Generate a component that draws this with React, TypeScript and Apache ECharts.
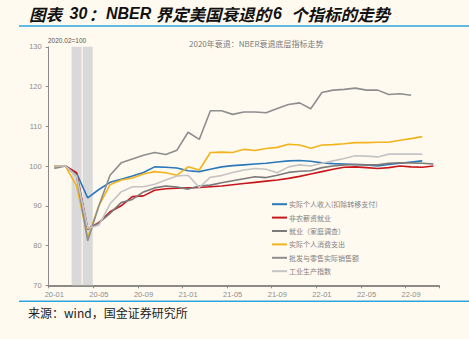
import React, { useEffect, useRef } from 'react';
import * as echarts from 'echarts';

const months = [
  '2020-01', '2020-02', '2020-03', '2020-04', '2020-05', '2020-06', '2020-07', '2020-08', '2020-09', '2020-10', '2020-11', '2020-12',
  '2021-01', '2021-02', '2021-03', '2021-04', '2021-05', '2021-06', '2021-07', '2021-08', '2021-09', '2021-10', '2021-11', '2021-12',
  '2022-01', '2022-02', '2022-03', '2022-04', '2022-05', '2022-06', '2022-07', '2022-08', '2022-09', '2022-10', '2022-11',
];

const recessionShade = [null, null, 130, 130, null, null, null, null, null, null, null, null, null, null, null, null, null, null, null, null, null, null, null, null, null, null, null, null, null, null, null, null, null, null, null];

const realIncome = [100, 100, 98.2, 92.0, 94.1, 95.9, 96.7, 97.5, 98.4, 99.8, 99.7, 99.5, 98.8, 98.6, 99.2, 99.8, 100.1, 100.3, 100.5, 100.7, 101.0, 101.3, 101.4, 101.2, 100.8, 100.6, 100.5, 100.4, 100.3, 100.0, 100.4, 100.7, 101.0, 101.3, null];
const payrolls = [100, 100, 98.3, 84.1, 85.8, 88.5, 90.0, 92.3, 92.5, 93.9, 94.3, 94.4, 94.5, 94.6, 94.8, 95.0, 95.3, 95.6, 95.9, 96.2, 96.5, 96.9, 97.4, 98.0, 98.6, 99.2, 99.7, 99.8, 99.6, 99.4, 99.6, 100.0, 99.8, 99.7, 100.0];
const householdEmp = [99.8, 100, 97.7, 84.1, 85.7, 88.1, 90.8, 91.6, 93.5, 94.5, 95.0, 94.7, 94.2, 95.0, 95.2, 95.8, 96.3, 96.8, 97.3, 97.1, 97.7, 98.4, 98.7, 98.8, 99.6, 100.0, 100.3, 100.4, 100.3, 100.3, 100.7, 100.8, 100.8, 100.7, 100.5];
const realPCE = [100, 100, 95.0, 82.0, 90.0, 95.3, 96.5, 97.0, 98.0, 98.6, 98.3, 97.7, 99.8, 99.0, 103.4, 103.5, 103.4, 104.2, 103.9, 104.4, 104.7, 105.5, 105.3, 104.5, 105.3, 105.4, 105.6, 105.9, 105.9, 106.0, 106.0, 106.5, 106.9, 107.4, null];
const tradeSales = [99.4, 100, 97.5, 81.2, 90.0, 97.7, 100.8, 101.8, 102.7, 103.4, 102.9, 104.0, 108.5, 106.7, 113.9, 113.9, 113.0, 113.6, 113.6, 113.4, 114.5, 115.5, 115.9, 114.4, 118.5, 119.1, 119.3, 119.6, 119.1, 119.1, 118.0, 118.2, 117.8, null, null];
const industrialProd = [100, 100, 97.5, 84.3, 85.1, 90.5, 93.5, 94.8, 94.8, 95.4, 96.5, 97.5, 97.7, 94.6, 97.2, 97.6, 98.4, 99.0, 99.4, 99.2, 98.3, 99.8, 100.3, 100.0, 100.7, 101.3, 101.9, 102.6, 102.5, 102.3, 103.0, 103.0, 103.0, 103.0, null];

const seriesNames = [
  '实际个人收入(扣除转移支付)',
  '非农薪资就业',
  '就业（家庭调查）',
  '实际个人消费支出',
  '批发与零售实际销售额',
  '工业生产指数',
];
const seriesColors = ['#2b78ba', '#c8161d', '#7a7a7a', '#f2b31c', '#8e8e8e', '#c4c4c4'];
const seriesData = [realIncome, payrolls, householdEmp, realPCE, tradeSales, industrialProd];

const yTicks = [70, 80, 90, 100, 110, 120, 130];

const titleParts = [
  { text: '图表', x: 29, latin: false },
  { text: '30', x: 69.5, latin: true },
  { text: '：', x: 88.5, latin: false },
  { text: 'NBER', x: 106, latin: true },
  { text: '界定美国衰退的', x: 155.5, latin: false },
  { text: '6', x: 273, latin: true },
  { text: '个指标的走势', x: 291, latin: false },
];

export default function App() {
  const ref = useRef<HTMLDivElement>(null);
  useEffect(() => {
    document.body.style.margin = '0';
    document.body.style.background = '#fffaf0';
    const chart = echarts.init(ref.current!, null, { renderer: 'svg' });
    const latin = 'Liberation Sans, Arial, sans-serif';
    const cjk = '"Noto Sans CJK SC", sans-serif';
    chart.setOption({
      animation: false,
      backgroundColor: '#fffaf0',
      grid: { left: 48.7, right: 30, top: 46.8, bottom: 53.7, containLabel: false },
      xAxis: {
        type: 'category',
        data: months,
        boundaryGap: true,
        axisLine: { show: true, lineStyle: { color: '#8c8a86', width: 2 } },
        axisTick: { show: true, interval: 3, length: 3, lineStyle: { color: '#8c8a86' } },
        axisLabel: {
          interval: 3,
          margin: 5,
          fontSize: 7.5,
          color: '#8c8c8c',
          fontFamily: latin,
          formatter: (v: string) => v.slice(2),
        },
        splitLine: { show: false },
      },
      yAxis: {
        type: 'value',
        min: yTicks[0],
        max: yTicks[yTicks.length - 1],
        interval: 10,
        axisLine: { show: true, lineStyle: { color: '#8c8a86', width: 1 } },
        axisTick: { show: true, length: 3, lineStyle: { color: '#8c8a86' } },
        axisLabel: { margin: 7, fontSize: 7.5, color: '#8c8c8c', fontFamily: latin },
        splitLine: { show: false },
      },
      legend: {
        orient: 'vertical',
        left: 271,
        top: 200.7,
        padding: 0,
        itemWidth: 15,
        itemHeight: 8,
        itemGap: 6.4,
        data: seriesNames,
        itemStyle: { opacity: 0, color: 'transparent', borderWidth: 0 },
        lineStyle: { width: 2 },
        textStyle: { fontSize: 7, color: '#7f7f7f', fontFamily: cjk, padding: [0, 0, 0, -3] },
      },
      series: [
        {
          type: 'bar',
          data: recessionShade,
          barWidth: 10,
          itemStyle: { color: '#d9d9d9' },
          silent: true,
          z: 1,
        },
        ...seriesNames.map((name, k) => ({
          name,
          type: 'line',
          data: seriesData[k],
          symbol: 'none',
          showSymbol: false,
          lineStyle: { color: seriesColors[k], width: 1.6 },
          itemStyle: { color: seriesColors[k] },
          z: 3,
        })),
      ],
      graphic: [
        ...titleParts.map((p) => ({
          type: 'text',
          x: p.x,
          y: 13.5,
          style: {
            text: p.text,
            fontFamily: p.latin ? latin : cjk,
            fontSize: p.latin ? 16 : 16.5,
            fontStyle: 'italic',
            fontWeight: 'bold',
            fill: '#111',
            verticalAlign: 'middle',
          },
        })),
        { type: 'rect', shape: { x: 19, y: 25.3, width: 450, height: 1.5 }, style: { fill: '#2aa6dd' } },
        { type: 'rect', shape: { x: 19, y: 300.6, width: 450, height: 1.5 }, style: { fill: '#2aa6dd' } },
        {
          type: 'text',
          left: 28,
          top: 306,
          style: { text: '来源：wind，国金证券研究所', fontFamily: cjk, fontSize: 12, fill: '#222' },
        },
        {
          type: 'text',
          left: 189,
          top: 39,
          style: { text: '2020年衰退：NBER衰退底层指标走势', fontFamily: cjk, fontSize: 8, fill: '#7a7a7a' },
        },
        {
          type: 'text',
          left: 48,
          top: 36.5,
          style: { text: '2020.02=100', fontFamily: latin, fontSize: 6.5, fill: '#555' },
        },
      ],
    });
    return () => chart.dispose();
  }, []);
  return <div ref={ref} style={{ width: 469, height: 339 }} />;
}
